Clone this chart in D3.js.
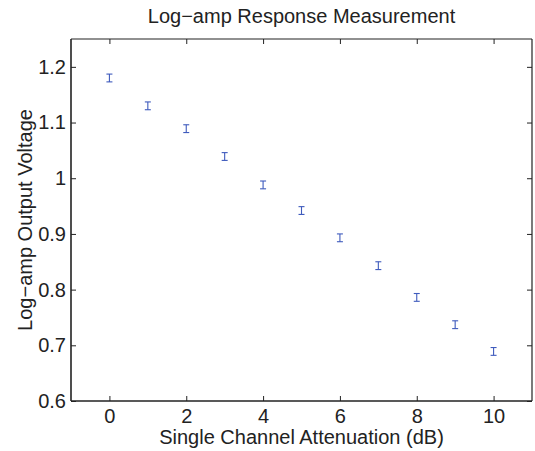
<!DOCTYPE html>
<html>
<head>
<meta charset="utf-8">
<script src="https://cdn.jsdelivr.net/npm/d3@7"></script>
<style>
  html, body { margin: 0; padding: 0; background: #fff; }
  svg { display: block; }
  text { font-family: "Liberation Sans", Arial, Helvetica, sans-serif; fill: #222; }
</style>
</head>
<body>
<svg id="chart" width="535" height="451"></svg>
<script>
// ---- data ----
const attenuation = [0, 1, 2, 3, 4, 5, 6, 7, 8, 9, 10];
const voltage     = [1.180, 1.130, 1.089, 1.039, 0.988, 0.942, 0.893, 0.843, 0.786, 0.737, 0.689];
const errors      = [0.007, 0.007, 0.007, 0.007, 0.007, 0.007, 0.007, 0.007, 0.007, 0.007, 0.007];
const xTicks = [0, 2, 4, 6, 8, 10];
const yTicks = [0.6, 0.7, 0.8, 0.9, 1.0, 1.1, 1.2];
const yTickLabels = ["0.6", "0.7", "0.8", "0.9", "1", "1.1", "1.2"];
const xDomain = [-1, 11];
const yDomain = [0.6, 1.25];
const titleText = "Log\u2212amp Response Measurement";
const xLabelText = "Single Channel Attenuation (dB)";
const yLabelText = "Log\u2212amp Output Voltage";

// ---- layout ----
const L = 71, R = 532, T = 39, B = 401;
const FONT = 20;
const svg = d3.select("#chart");

const x = d3.scaleLinear().domain(xDomain).range([L, R]);
const y = d3.scaleLinear().domain(yDomain).range([B, T]);

function styleAxis(g) {
  g.select(".domain").remove();
  g.selectAll(".tick line").attr("stroke", "#222").attr("stroke-width", 1);
  g.selectAll("text").attr("font-family", null).attr("font-size", FONT).attr("fill", "#222");
  g.attr("font-family", null).attr("font-size", null);
}

svg.append("g").attr("transform", `translate(0,${B})`)
  .call(d3.axisBottom(x).tickValues(xTicks).tickSize(-5).tickPadding(8).tickFormat(d3.format("d")))
  .call(styleAxis);
svg.append("g").attr("transform", `translate(0,${T})`)
  .call(d3.axisTop(x).tickValues(xTicks).tickSize(-5).tickFormat(""))
  .call(styleAxis);
svg.append("g").attr("transform", `translate(${L},0)`)
  .call(d3.axisLeft(y).tickValues(yTicks).tickSize(-5).tickPadding(5).tickFormat((d, i) => yTickLabels[i]))
  .call(styleAxis);
svg.append("g").attr("transform", `translate(${R},0)`)
  .call(d3.axisRight(y).tickValues(yTicks).tickSize(-5).tickFormat(""))
  .call(styleAxis);

// box
svg.append("line").attr("x1", L).attr("x2", R).attr("y1", T).attr("y2", T).attr("stroke", "#222").attr("stroke-width", 1.2);
svg.append("line").attr("x1", R).attr("x2", R).attr("y1", T).attr("y2", B).attr("stroke", "#222").attr("stroke-width", 1.2);
svg.append("line").attr("x1", L).attr("x2", R).attr("y1", B).attr("y2", B).attr("stroke", "#222").attr("stroke-width", 1.6);
svg.append("line").attr("x1", L).attr("x2", L).attr("y1", T).attr("y2", B).attr("stroke", "#222").attr("stroke-width", 1.6);

// error bars
const color = "#3f5bbd";
const cap = 3;
const eb = svg.append("g").attr("stroke", color).attr("stroke-width", 1.1).attr("fill", "none");
const pts = attenuation.map((a, i) => ({ a, v: voltage[i], e: errors[i] }));
eb.selectAll("line.v").data(pts).join("line").attr("class", "v")
  .attr("x1", d => x(d.a)).attr("x2", d => x(d.a))
  .attr("y1", d => y(d.v - d.e)).attr("y2", d => y(d.v + d.e));
eb.selectAll("line.top").data(pts).join("line").attr("class", "top")
  .attr("x1", d => x(d.a) - cap).attr("x2", d => x(d.a) + cap)
  .attr("y1", d => y(d.v + d.e)).attr("y2", d => y(d.v + d.e));
eb.selectAll("line.bot").data(pts).join("line").attr("class", "bot")
  .attr("x1", d => x(d.a) - cap).attr("x2", d => x(d.a) + cap)
  .attr("y1", d => y(d.v - d.e)).attr("y2", d => y(d.v - d.e));

// title and labels
svg.append("text").attr("x", (L + R) / 2).attr("y", 23).attr("text-anchor", "middle")
  .attr("font-size", FONT).text(titleText);
svg.append("text").attr("x", (L + R) / 2).attr("y", 444).attr("text-anchor", "middle")
  .attr("font-size", FONT).text(xLabelText);
svg.append("text").attr("transform", `translate(32,${(T + B) / 2}) rotate(-90)`)
  .attr("text-anchor", "middle").attr("font-size", FONT).text(yLabelText);
</script>
</body>
</html>
